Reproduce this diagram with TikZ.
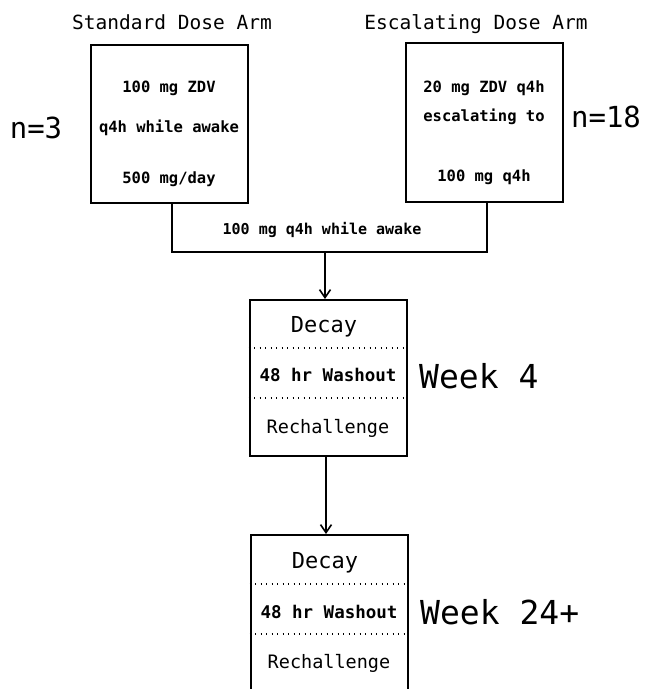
\documentclass[tikz,border=0pt]{standalone}
\usepackage{fontspec}
\setmainfont{DejaVu Sans Mono}
\usetikzlibrary{arrows.meta}
\begin{document}
\begin{tikzpicture}[x=1pt,y=-1pt,
  box/.style={draw,line width=2pt,minimum width=157pt,inner sep=0pt},
  conn/.style={line width=2pt},
  arr/.style={line width=2pt,-{Straight Barb[length=8pt,width=11pt,line width=1.6pt]}},
  sep/.style={line width=1.3pt,dash pattern=on 1.3pt off 4.2pt},
  head/.style={font=\fontsize{19.5}{19.5}\selectfont,inner sep=0pt},
  inbox/.style={font=\fontsize{15.5}{15.5}\selectfont\bfseries,inner sep=0pt},
  big/.style={font=\fontsize{29}{29}\selectfont,inner sep=0pt},
  week/.style={font=\fontsize{33}{33}\selectfont,inner sep=0pt,anchor=west},
  decay/.style={font=\fontsize{22}{22}\selectfont,inner sep=0pt},
  wash/.style={font=\fontsize{17.5}{17.5}\selectfont\bfseries,inner sep=0pt},
  rech/.style={font=\fontsize{18.5}{18.5}\selectfont,inner sep=0pt}]
\useasboundingbox (0,0) rectangle (647,689);
\clip (0,0) rectangle (647,689);
\fill[white] (0,0) rectangle (647,689);
% top arms
\node[head] (hs) at (172,22) {Standard Dose Arm};
\node[head] (he) at (476,24) {Escalating Dose Arm};
\node[box,minimum height=158pt] (L) at (169,124) {};
\node[box,minimum height=159pt] (R) at (484,122.5) {};
\node[inbox] (l1) at (169,88) {100 mg ZDV};
\node[inbox] (l2) at (169,128) {q4h while awake};
\node[inbox] (l3) at (169,179) {500 mg/day};
\node[inbox] (r1) at (484,88) {20 mg ZDV q4h};
\node[inbox] (r2) at (484,117) {escalating to};
\node[inbox] (r3) at (484,177) {100 mg q4h};
\node[big] (n3) at (36,128) {n=3};
\node[big] (n18) at (606,117) {n=18};
% joining connector
\coordinate (jl) at (172,252);
\coordinate (jr) at (487,252);
\coordinate (jm) at (325,252);
\draw[conn] (L.south -| jl) -- (jl) -- (jr) -- (R.south -| jr);
\node[inbox,font=\fontsize{15}{15}\selectfont\bfseries] (cl) at (322,230) {100 mg q4h while awake};
% week 4 box
\node[box,minimum height=156pt] (B1) at (328,378) {};
\draw[arr] (jm) -- (B1.north -| jm);
\draw[sep] (B1.west |- 0,348) -- (B1.east |- 0,348);
\draw[sep] (B1.west |- 0,398) -- (B1.east |- 0,398);
\node[decay] (d1) at (324,327) {Decay};
\node[wash] (w1) at (328,375) {48 hr Washout};
\node[rech] (rc1) at (328,428) {Rechallenge};
\node[week] (wk4) at (419,376) {Week 4};
% week 24+ box
\node[box,minimum height=180pt] (B2) at (329,625) {};
\coordinate (a2) at (326,456);
\draw[arr] (a2) -- (B2.north -| a2);
\draw[sep] (B2.west |- 0,584) -- (B2.east |- 0,584);
\draw[sep] (B2.west |- 0,634) -- (B2.east |- 0,634);
\node[decay] (d2) at (325,563) {Decay};
\node[wash] (w2) at (329,612) {48 hr Washout};
\node[rech] (rc2) at (329,663) {Rechallenge};
\node[week] (wk24) at (420,612) {Week 24+};
\end{tikzpicture}
\end{document}
